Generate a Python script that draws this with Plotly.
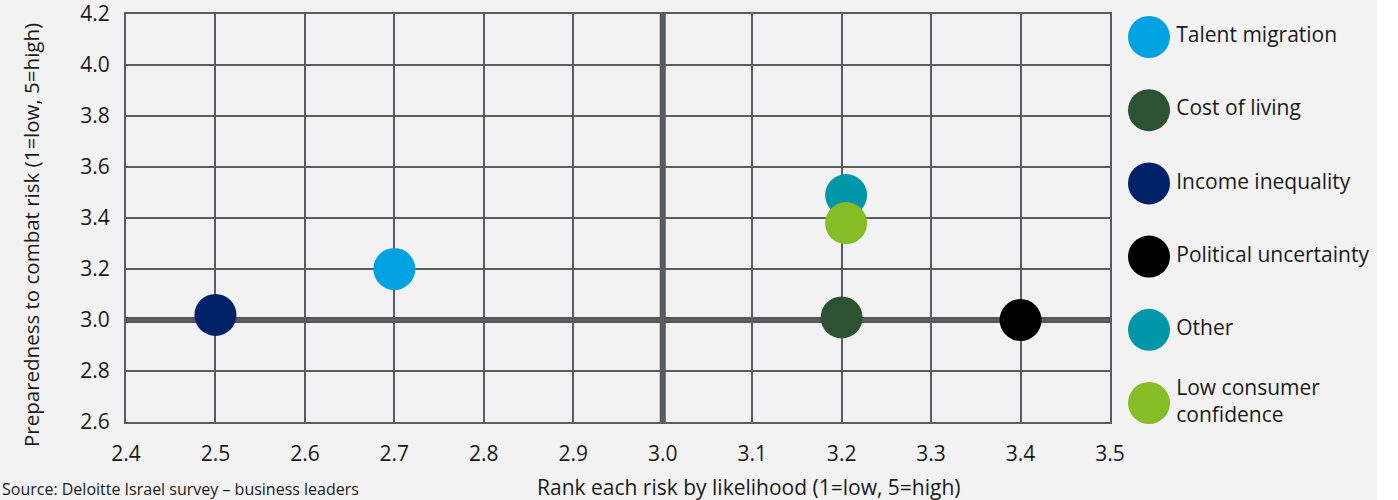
import plotly.graph_objects as go

risks = ["Talent migration", "Cost of living", "Income inequality",
         "Political uncertainty", "Other", "Low consumer confidence"]
legend_labels = ["Talent migration", "Cost of living", "Income inequality",
                 "Political uncertainty", "Other", "Low consumer<br>confidence"]
likelihood = [2.70, 3.20, 2.50, 3.40, 3.205, 3.205]
preparedness = [3.20, 3.01, 3.02, 3.00, 3.49, 3.38]
colors = ["#00A3E0", "#2C5234", "#012169", "#000000", "#0097A9", "#86BC25"]

x_ticks = [2.4, 2.5, 2.6, 2.7, 2.8, 2.9, 3.0, 3.1, 3.2, 3.3, 3.4, 3.5]
y_ticks = [2.6, 2.8, 3.0, 3.2, 3.4, 3.6, 3.8, 4.0, 4.2]

FONT = "Open Sans"
GRID = "#5A5D61"
AXIS_THICK = "#54565A"
W, H = 1398, 500


def px(x):
    return x / W


def py(y):
    return (H - y) / H


fig = go.Figure()

order = [2, 0, 1, 3, 4, 5]
for i in order:
    fig.add_trace(go.Scatter(
        x=[likelihood[i]], y=[preparedness[i]], mode="markers",
        marker=dict(size=42, color=colors[i], line=dict(width=0)),
        name=risks[i], showlegend=False, cliponaxis=False,
        hovertemplate=risks[i] + ": (%{x}, %{y})<extra></extra>"))

# custom legend on a hidden second axis
fig.add_trace(go.Scatter(
    x=[0] * len(risks), y=list(range(len(risks))), mode="markers+text",
    marker=dict(size=42, color=colors, line=dict(width=0)),
    text=legend_labels, textposition="middle right",
    textfont=dict(family=FONT, size=21, color="#1a1a1a"),
    xaxis="x2", yaxis="y2", showlegend=False, hoverinfo="skip", cliponaxis=False))

fig.add_shape(type="line", xref="x", yref="y domain", x0=3.0, x1=3.0, y0=0, y1=1,
              line=dict(color=AXIS_THICK, width=6), layer="below")
fig.add_shape(type="line", xref="x domain", yref="y", x0=0, x1=1, y0=3.0, y1=3.0,
              line=dict(color=AXIS_THICK, width=6), layer="below")
fig.add_shape(type="rect", xref="paper", yref="paper",
              x0=px(1377), x1=1, y0=0, y1=1,
              fillcolor="white", line=dict(width=0), layer="below")

fig.update_layout(
    width=W, height=H,
    margin=dict(l=0, r=0, t=0, b=0),
    paper_bgcolor="#F2F2F2", plot_bgcolor="#F2F2F2",
    font=dict(family=FONT, size=21, color="#1a1a1a"),
    xaxis=dict(domain=[px(126), px(1110)], range=[2.4, 3.5],
               tickvals=x_ticks, ticktext=[f"{v:.1f}" for v in x_ticks],
               showgrid=True, gridcolor=GRID, gridwidth=2,
               showline=True, linecolor=GRID, linewidth=2, mirror=True,
               ticks="outside", ticklen=12, tickcolor="rgba(0,0,0,0)",
               ticklabeloverflow="allow",
               zeroline=False, automargin=False, tickfont=dict(size=21)),
    yaxis=dict(domain=[py(422), py(14)], range=[2.6, 4.2],
               tickvals=y_ticks, ticktext=[f"{v:.1f}" for v in y_ticks],
               showgrid=True, gridcolor=GRID, gridwidth=2,
               showline=True, linecolor=GRID, linewidth=2, mirror=True,
               ticks="outside", ticklen=10, tickcolor="rgba(0,0,0,0)",
               ticklabeloverflow="allow",
               zeroline=False, automargin=False, tickfont=dict(size=21)),
    xaxis2=dict(domain=[px(1149), px(1377)], range=[0, 5.4], visible=False, anchor="y2"),
    yaxis2=dict(domain=[py(440), py(0)], range=[5.5055, -0.5055], visible=False, anchor="x2"),
    showlegend=False,
    annotations=[
        dict(text="Rank each risk by likelihood (1=low, 5=high)", xref="paper", yref="paper",
             x=px(749), y=py(487), xanchor="center", yanchor="middle",
             showarrow=False, font=dict(size=21)),
        dict(text="Preparedness to combat risk (1=low, 5=high)", xref="paper", yref="paper",
             x=px(31), y=py(235), xanchor="center", yanchor="middle",
             textangle=-90, showarrow=False, font=dict(size=20.5)),
        dict(text="Source: Deloitte Israel survey – business leaders", xref="paper", yref="paper",
             x=0, y=py(489), xanchor="left", yanchor="middle",
             showarrow=False, font=dict(size=16)),
    ],
)

fig.write_html("out.html")
